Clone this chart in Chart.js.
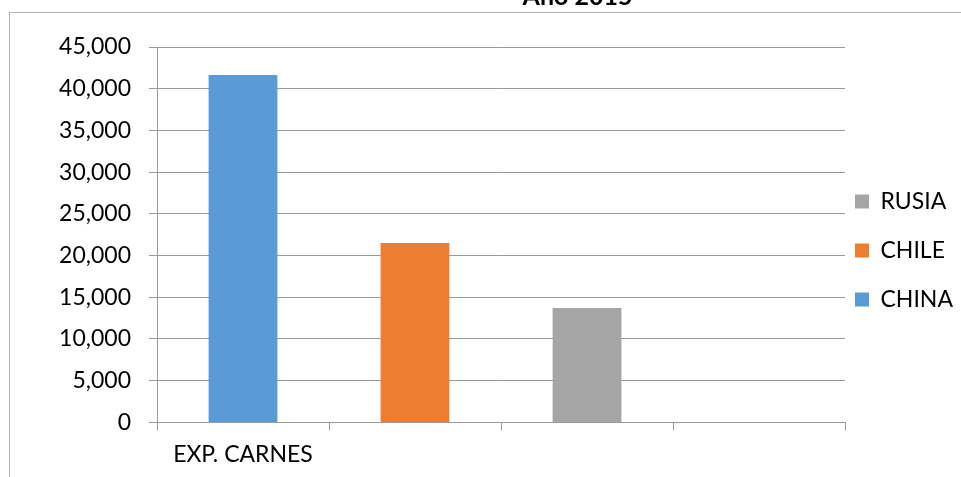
<!DOCTYPE html>
<html>
<head>
<meta charset="utf-8">
<script src="https://cdn.jsdelivr.net/npm/chart.js@4/dist/chart.umd.min.js"></script>
<style>
  html, body { margin: 0; padding: 0; background: #fff; overflow: hidden; }
  body { width: 961px; height: 477px; position: relative; }
  #wrap { position: absolute; left: 0; top: -24px; width: 961px; height: 502px; }
  #frame { position: absolute; left: 9px; top: 12px; right: 0; bottom: 0;
           border-top: 1px solid #b4b4b4; border-left: 1px solid #b4b4b4; pointer-events: none; }
</style>
</head>
<body>
<div id="wrap"><canvas id="c"></canvas></div>
<div id="frame"></div>
<script>
const titleText = 'Año 2015';
const categories = ['EXP. CARNES', '', '', ''];
const seriesNames = ['CHINA', 'CHILE', 'RUSIA'];
const chinaValues = [41650, null, null, null];
const chileValues = [null, 21500, null, null];
const rusiaValues = [null, null, 13700, null];
const yTicks = [0, 5000, 10000, 15000, 20000, 25000, 30000, 35000, 40000, 45000];

const gridColor = '#9a9a9a';
const FONT = 'Lato';

const boxShift = {
  id: 'boxShift',
  afterLayout(chart) {
    const lg = chart.legend;
    if (lg) {
      const dx = -16, dy = 23.5;
      lg.left += dx; lg.right += dx;
      lg.top += dy; lg.bottom += dy;
    }
    const tb = chart.titleBlock;
    if (tb) {
      tb.left += 88; tb.right += 88;
    }
  }
};

new Chart(document.getElementById('c'), {
  type: 'bar',
  data: {
    labels: categories,
    datasets: [
      { label: seriesNames[0], data: chinaValues, backgroundColor: '#5B9BD5' },
      { label: seriesNames[1], data: chileValues, backgroundColor: '#ED7D31' },
      { label: seriesNames[2], data: rusiaValues, backgroundColor: '#A5A5A5' }
    ]
  },
  options: {
    responsive: true,
    maintainAspectRatio: false,
    animation: false,
    devicePixelRatio: 1,
    layout: { padding: { left: 0, right: -18, top: 0, bottom: 0 } },
    datasets: { bar: { grouped: false, barPercentage: 0.4, categoryPercentage: 1.0 } },
    plugins: {
      title: {
        display: true, text: titleText, color: '#000',
        font: { family: FONT, size: 25, weight: 'bold' },
        padding: { top: 5.5, bottom: 35.5 }
      },
      legend: {
        position: 'right', reverse: true,
        labels: {
          color: '#000', boxWidth: 14, boxHeight: 14, padding: 26,
          font: { family: FONT, size: 23 }
        }
      },
      tooltip: { enabled: false }
    },
    scales: {
      x: {
        grid: { display: true, drawOnChartArea: false, drawTicks: true, tickLength: 8, color: gridColor, offset: true },
        border: { display: true, color: gridColor },
        ticks: { color: '#000', font: { family: FONT, size: 23 }, padding: 10, maxRotation: 0, autoSkip: false }
      },
      y: {
        min: 0, max: 45000,
        afterFit(scale) { scale.width = 157; },
        afterBuildTicks(scale) { scale.ticks = yTicks.map(v => ({ value: v })); },
        grid: { color: gridColor, tickLength: 8, drawTicks: true },
        border: { display: true, color: gridColor },
        ticks: {
          color: '#000', font: { family: FONT, size: 23 }, padding: 18,
          callback: v => Number(v).toLocaleString('en-US')
        }
      }
    }
  },
  plugins: [boxShift]
});
</script>
</body>
</html>
